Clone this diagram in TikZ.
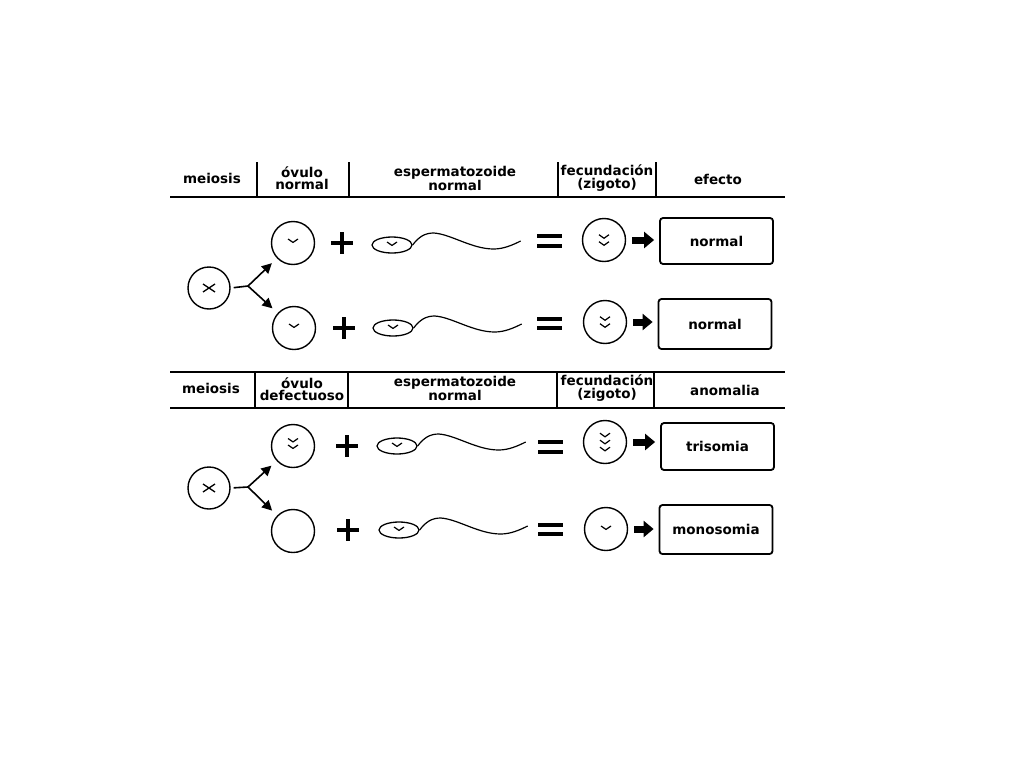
\documentclass[tikz,border=0pt]{standalone}
\usepackage{fontspec}
\setmainfont{DejaVu Sans}
\usetikzlibrary{arrows.meta,shapes.geometric}
\begin{document}
\begin{tikzpicture}[x=1pt,y=-1pt,
  lbl/.style={font=\bfseries\fontsize{13.5}{12.5}\selectfont, align=center, inner sep=0pt},
  cell/.style={circle, draw, line width=1.4pt, minimum size=43pt, inner sep=0pt},
  mcell/.style={circle, draw, line width=1.4pt, minimum size=42pt, inner sep=0pt},
  head/.style={ellipse, draw, line width=1.3pt, minimum width=40pt, minimum height=16pt, inner sep=0pt},
  effbox/.style={draw, line width=1.8pt, rounded corners=3pt, minimum width=113pt, inner sep=0pt,
    font=\bfseries\fontsize{13.5}{13}\selectfont},
  rule/.style={line width=2pt},
  tail/.style={line width=1.2pt},
  thick bar/.style={line width=4pt},
  branch/.style={line width=1.6pt, -{Triangle[length=10pt,width=10pt]}, shorten >=7pt},
  blockarrow/.style={line width=7pt, -{Triangle[length=10pt,width=16pt]}, shorten <=6pt, shorten >=5pt},
  chev/.pic={\draw[line width=1.2pt] (-5,-1.8) -- (0,1.8) -- (5,-1.8);},
  wchev/.pic={\draw[line width=1.2pt] (-5,-2) -- (0,1.4) -- (5,-2);},
  xmark/.pic={\draw[line width=1.3pt] (-6,-4) -- (6,4) (-6,4) -- (6,-4);}
]
\useasboundingbox (0,0) rectangle (1024,768);
\fill[white] (0,0) rectangle (1024,768);

% ---------------- top table header ----------------
\draw[rule] (170,197) -- (785,197);
\foreach \x in {257,349,558,656} \draw[rule] (\x,162) -- (\x,197);
\node[lbl] (h1a) at (212,178) {meiosis};
\node[lbl] (h1b) at (302,178) {óvulo\\normal};
\node[lbl] (h1c) at (455,178) {espermatozoide\\normal};
\node[lbl] (h1d) at (607,178) {fecundación\\(zigoto)};
\node[lbl] (h1e) at (718,179) {efecto};

% ---------------- top rows ----------------
\node[mcell] (m1) at (209,288) {};
\pic at (209,288) {xmark};
\coordinate (j1) at (248,286);
\draw[line width=1.6pt, shorten <=3pt] (m1.east) -- (j1);

\node[cell] (o1) at (293,243) {};
\node[cell] (o2) at (294,328) {};
\pic at (293,241) {wchev};
\pic at (294,326) {wchev};
\draw[branch] (j1) -- (o1);
\draw[branch] (j1) -- (o2);

\draw[thick bar] (331,243) -- (353,243) (342,232) -- (342,254);
\draw[thick bar] (333,328) -- (355,328) (344,317) -- (344,339);

\node[head] (s1) at (392,245) {};
\node[head] (s2) at (393,328) {};
\pic at (392,244) {wchev};
\pic at (393,327) {wchev};
\draw[tail] (s1.east) .. controls +(6,-8) and +(-9,0) .. ++(21,-12)
  .. controls +(17,1) and +(-22,0) .. ++(60,16)
  .. controls +(10,0) and +(-8,4) .. ++(27,-8);
\draw[tail] (s2.east) .. controls +(6,-8) and +(-9,0) .. ++(21,-12)
  .. controls +(17,1) and +(-22,0) .. ++(60,16)
  .. controls +(10,0) and +(-8,4) .. ++(27,-8);

\draw[thick bar] (537,236) -- (562,236) (537,245.5) -- (562,245.5);
\draw[thick bar] (537,318.5) -- (562,318.5) (537,328) -- (562,328);

\node[cell] (z1) at (604,240) {};
\node[cell] (z2) at (605,322) {};
\pic at (604,236.5) {chev};
\pic at (604,243.5) {chev};
\pic at (605,318.5) {chev};
\pic at (605,325.5) {chev};

\node[effbox, minimum height=46pt] (e1) at (716.5,241) {normal};
\node[effbox, minimum height=50pt] (e2) at (715,324) {normal};
\draw[blockarrow] (z1.east) -- (z1.east -| e1.west);
\draw[blockarrow] (z2.east) -- (z2.east -| e2.west);

% ---------------- bottom table header ----------------
\draw[rule] (170,372) -- (785,372);
\draw[rule] (170,408) -- (785,408);
\foreach \x in {255,348,557,654} \draw[rule] (\x,372) -- (\x,408);
\node[lbl] (h2a) at (211,388) {meiosis};
\node[lbl] (h2b) at (302,389) {óvulo\\defectuoso};
\node[lbl] (h2c) at (455,388) {espermatozoide\\normal};
\node[lbl] (h2d) at (607,388) {fecundación\\(zigoto)};
\node[lbl] (h2e) at (725,390) {anomalia};

% ---------------- bottom rows ----------------
\node[mcell] (m2) at (209,488) {};
\pic at (209,488) {xmark};
\coordinate (j2) at (248,487);
\draw[line width=1.6pt, shorten <=3pt] (m2.east) -- (j2);

\node[cell] (o3) at (293,446) {};
\node[cell] (o4) at (293,531) {};
\pic at (293,440.5) {wchev};
\pic at (293,447) {wchev};
\draw[branch] (j2) -- (o3);
\draw[branch] (j2) -- (o4);

\draw[thick bar] (336,446) -- (358,446) (347,435) -- (347,457);
\draw[thick bar] (337,530) -- (359,530) (348,519) -- (348,541);

\node[head] (s3) at (397,446) {};
\node[head] (s4) at (399,530) {};
\pic at (397,445) {wchev};
\pic at (399,529) {wchev};
\draw[tail] (s3.east) .. controls +(6,-8) and +(-9,0) .. ++(21,-12)
  .. controls +(17,1) and +(-22,0) .. ++(60,16)
  .. controls +(10,0) and +(-8,4) .. ++(27,-8);
\draw[tail] (s4.east) .. controls +(6,-8) and +(-9,0) .. ++(21,-12)
  .. controls +(17,1) and +(-22,0) .. ++(60,16)
  .. controls +(10,0) and +(-8,4) .. ++(27,-8);

\draw[thick bar] (538,442) -- (563,442) (538,451.5) -- (563,451.5);
\draw[thick bar] (538,524.5) -- (563,524.5) (538,534) -- (563,534);

\node[cell] (z3) at (605,442) {};
\node[cell] (z4) at (606,529) {};
\pic at (605,435) {chev};
\pic at (605,442) {chev};
\pic at (605,449) {chev};
\pic at (606,528) {wchev};

\node[effbox, minimum height=47pt] (e3) at (717.5,446.5) {trisomia};
\node[effbox, minimum height=49pt] (e4) at (716,529.5) {monosomia};
\draw[blockarrow] (z3.east) -- (z3.east -| e3.west);
\draw[blockarrow] (z4.east) -- (z4.east -| e4.west);
\end{tikzpicture}
\end{document}
